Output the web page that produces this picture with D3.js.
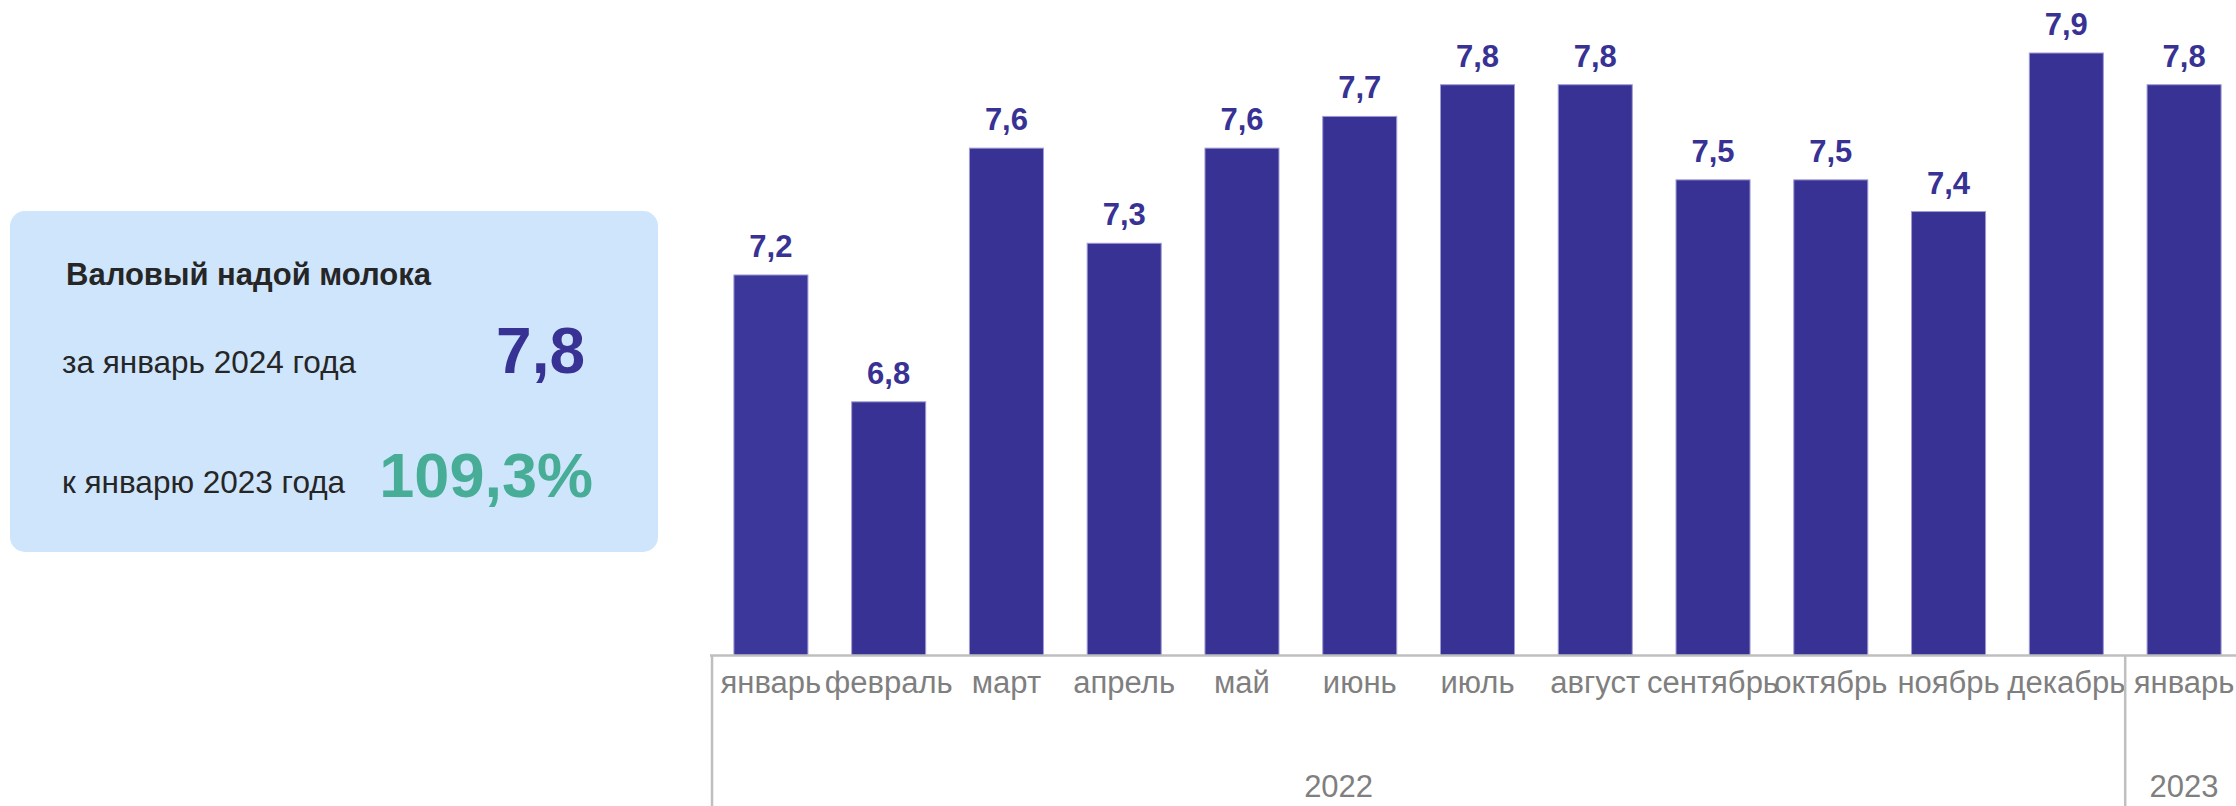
<!DOCTYPE html>
<html>
<head>
<meta charset="utf-8">
<script src="https://cdn.jsdelivr.net/npm/d3@7"></script>
<style>
    body { margin: 0; background: #fff; }
    svg { display: block; font-family: "Liberation Sans", Arial, sans-serif; }
</style>
</head>
<body>
<div id="chart"></div>
<script>
// данные
var months = ["январь", "февраль", "март", "апрель", "май", "июнь", "июль", "август", "сентябрь", "октябрь", "ноябрь", "декабрь", "январь"];
var years = ["2022", "2022", "2022", "2022", "2022", "2022", "2022", "2022", "2022", "2022", "2022", "2022", "2023"];
var values = [7.2, 6.8, 7.6, 7.3, 7.6, 7.7, 7.8, 7.8, 7.5, 7.5, 7.4, 7.9, 7.8];
var yDomain = [6, 8];

var panelTitle = "Валовый надой молока";
var panelRows = ["за январь 2024 года", "к январю 2023 года"];
var panelValues = ["7,8", "109,3%"];

var width = 2236, height = 806;

var svg = d3.select("#chart").append("svg")
    .attr("width", width)
    .attr("height", height);

var fmt = function (v) { return d3.format(".1f")(v).replace(".", ","); };

// левая плашка
var panel = svg.append("g");
panel.append("rect")
    .attr("x", 10).attr("y", 211)
    .attr("width", 648).attr("height", 341)
    .attr("rx", 15).attr("ry", 15)
    .attr("fill", "#cfe5fc");
panel.append("text")
    .attr("x", 66).attr("y", 285)
    .attr("font-size", "31px")
    .attr("font-weight", "bold")
    .attr("fill", "#262626")
    .text(panelTitle);
panel.selectAll("text.row")
    .data(panelRows)
    .enter().append("text")
    .attr("class", "row")
    .attr("x", 62)
    .attr("y", function (d, i) { return i === 0 ? 373 : 493; })
    .attr("font-size", "31.5px")
    .attr("fill", "#262626")
    .text(function (d) { return d; });
panel.selectAll("text.big")
    .data(panelValues)
    .enter().append("text")
    .attr("class", "big")
    .attr("x", function (d, i) { return i === 0 ? 585 : 593; })
    .attr("y", function (d, i) { return i === 0 ? 373 : 497; })
    .attr("text-anchor", "end")
    .attr("font-size", function (d, i) { return i === 0 ? "64px" : "63px"; })
    .attr("font-weight", "bold")
    .attr("fill", function (d, i) { return i === 0 ? "#373294" : "#47ad97"; })
    .text(function (d) { return d; });

// шкалы
var x = d3.scaleBand()
    .domain(d3.range(months.length))
    .range([712, 2243])
    .paddingInner(0.3715)
    .paddingOuter(0.186);

var y = d3.scaleLinear()
    .domain(yDomain)
    .range([655.5, 21.3]);

var baseY = y(yDomain[0]);

// столбцы
svg.append("g").selectAll("rect")
    .data(values)
    .enter().append("rect")
    .attr("x", function (d, i) { return x(i); })
    .attr("y", function (d) { return y(d); })
    .attr("width", x.bandwidth())
    .attr("height", function (d) { return baseY - y(d); })
    .attr("fill", function (d, i) { return i === 0 ? "#3c379b" : "#373294"; })
    .attr("stroke", "#9e9bd3")
    .attr("stroke-width", 1);

// подписи значений
svg.append("g").selectAll("text")
    .data(values)
    .enter().append("text")
    .attr("x", function (d, i) { return x(i) + x.bandwidth() / 2; })
    .attr("y", function (d) { return y(d) - 18; })
    .attr("text-anchor", "middle")
    .attr("font-size", "31px")
    .attr("font-weight", "bold")
    .attr("fill", "#373294")
    .text(function (d) { return fmt(d); });

// ось X
var xAxis = d3.axisBottom(x)
    .tickSize(0)
    .tickSizeOuter(0)
    .tickFormat(function (i) { return months[i]; });

var axisG = svg.append("g")
    .attr("transform", "translate(0," + baseY + ")")
    .call(xAxis);
axisG.select(".domain")
    .attr("stroke", "#bfbfbf")
    .attr("stroke-width", 2.5)
    .attr("d", "M710,0H" + width);
axisG.selectAll(".tick text")
    .attr("y", 0)
    .attr("dy", 37.5)
    .attr("font-size", "31px")
    .attr("font-family", "Liberation Sans, Arial, sans-serif")
    .attr("fill", "#7f7f7f");

// группы по годам
var groups = [];
years.forEach(function (yr, i) {
    var last = groups[groups.length - 1];
    if (!last || last.year !== yr) groups.push({year: yr, first: i, last: i});
    else last.last = i;
});
var half = (x.step() - x.bandwidth()) / 2;
groups.forEach(function (g) {
    g.left = x(g.first) - half;
    g.right = x(g.last) + x.bandwidth() + half;
});

svg.append("g").selectAll("line")
    .data(groups)
    .enter().append("line")
    .attr("x1", function (g) { return g.left; })
    .attr("x2", function (g) { return g.left; })
    .attr("y1", baseY)
    .attr("y2", height)
    .attr("stroke", "#bfbfbf")
    .attr("stroke-width", 2.5);

svg.append("g").selectAll("text")
    .data(groups)
    .enter().append("text")
    .attr("x", function (g) {
        // подпись 2022 смещена влево, как в исходнике
        if (g.last - g.first > 0) return (g.left + g.right) / 2 - 80;
        return (g.left + g.right) / 2;
    })
    .attr("y", 797)
    .attr("text-anchor", "middle")
    .attr("font-size", "31px")
    .attr("fill", "#7f7f7f")
    .text(function (g) { return g.year; });
</script>
</body>
</html>
